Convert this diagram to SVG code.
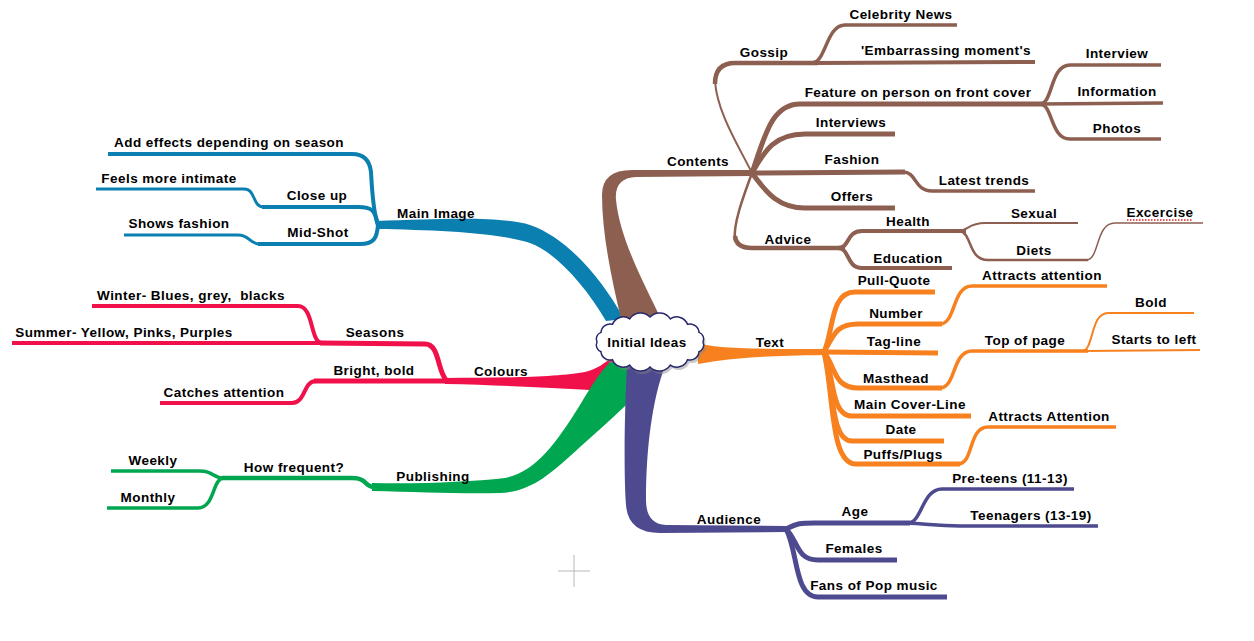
<svg xmlns="http://www.w3.org/2000/svg" width="1254" height="641" viewBox="0 0 1254 641">
<style>
.t{font-family:"Liberation Sans",Arial,sans-serif;font-weight:bold;font-size:13.5px;letter-spacing:0.45px;text-anchor:middle;fill:#000}
.l{fill:none;stroke-linecap:butt;stroke-linejoin:round}
.br{stroke:#8c5f50}.or{stroke:#f7811f}.pu{stroke:#4e4a8f}.bl{stroke:#0a7fb0}.rd{stroke:#f0104a}.gr{stroke:#00a650}
.w5{stroke-width:5}.w45{stroke-width:4.5}.w4{stroke-width:4}.w35{stroke-width:3.5}.w3{stroke-width:3}.w25{stroke-width:2.5}.w2{stroke-width:2}.w15{stroke-width:1.5}
</style>
<rect width="1254" height="641" fill="#fff"/>
<g id="connectors">
  <!-- trunks -->
  <path fill="#0a7fb0" d="M 376 221 C 440 219, 500 216, 530 225 C 565 237, 600 275, 624 319 L 606 321 C 585 285, 555 252, 530 243 C 500 233, 440 230, 376 229 Z"/>
  <path fill="#8c5f50" d="M 621 319 C 612 280, 602 235, 602 195 Q 602 170, 632 170 L 752 170 L 752 176 L 636 177 Q 614 178, 616 200 C 620 240, 645 285, 661 319 Z"/>
  <path fill="#f0104a" d="M 445 378 C 500 378, 560 377, 585 372 C 597 369, 605 363, 612 357 L 618 372 C 608 382, 600 390, 590 390 C 550 388, 500 385, 445 384 Z"/>
  <path fill="#00a650" d="M 372 483 C 420 484, 470 482, 505 478 C 535 472, 555 445, 580 405 C 592 385, 600 372, 610 362 L 662 364 C 640 395, 610 420, 580 447 C 550 475, 530 492, 500 493 C 460 494, 420 492, 372 491 Z"/>
  <path fill="#4e4a8f" d="M 627 366 C 624 420, 624 480, 626 505 Q 628 533, 660 533 L 787 532 L 787 526 L 666 525 Q 646 524, 646 500 C 646 450, 652 400, 665 366 Z"/>
  <path fill="#f7811f" d="M 698 343 C 715 348, 740 349, 824 349 L 824 355 C 760 356, 730 358, 698 364 Z"/>
  <!-- brown -->
  <path class="l br w2" d="M 752 173 C 738 145, 716 110, 715 80"/>
  <path class="l br w45" d="M 715 84 Q 715 63, 735 63 L 818 63"/>
  <path class="l br w4" d="M 815 63 L 1035 62"/>
  <path class="l br w35" d="M 812 63 C 826 63, 826 25, 845 25 L 957 25"/>
  <path class="l br w5" d="M 752 173 C 765 135, 772 104, 800 104 L 1045 104"/>
  <path class="l br w35" d="M 1040 104 C 1053 104, 1050 65, 1070 65 L 1161 65"/>
  <path class="l br w35" d="M 1040 104 L 1163 103"/>
  <path class="l br w35" d="M 1040 104 C 1053 104, 1050 139, 1070 139 L 1161 139"/>
  <path class="l br w5" d="M 752 173 C 765 150, 775 134, 805 134 L 895 134"/>
  <path class="l br w5" d="M 752 173 L 905 172"/>
  <path class="l br w35" d="M 903 172 C 917 172, 914 191, 932 191 L 1035 191"/>
  <path class="l br w5" d="M 752 173 C 768 195, 780 208, 805 208 L 895 208"/>
  <path class="l br w25" d="M 752 173 C 742 200, 733 225, 735 240"/>
  <path class="l br w45" d="M 735 236 Q 736 248, 752 248 L 845 248"/>
  <path class="l br w4" d="M 838 248 C 850 248, 846 231, 862 231 L 966 231"/>
  <path class="l br w4" d="M 838 248 C 850 248, 846 268, 862 268 L 952 268"/>
  <path class="l br w2" d="M 958 231 C 968 231, 968 223, 985 223 L 1078 223"/>
  <path class="l br w25" d="M 960 231 C 972 233, 968 260, 988 260 L 1088 260"/>
  <path class="l br w15" d="M 1086 260 C 1100 260, 1095 223, 1115 223 L 1203 223"/>
  <!-- orange -->
  <path class="l or w5" d="M 824 352 C 834 330, 830 292, 855 292 L 935 292"/>
  <path class="l or w5" d="M 824 352 C 834 335, 836 324, 858 324 L 942 324"/>
  <path class="l or w35" d="M 940 324 C 956 324, 952 286, 972 286 L 1107 286"/>
  <path class="l or w5" d="M 824 352 L 938 353"/>
  <path class="l or w5" d="M 824 352 C 836 368, 834 388, 858 388 L 942 388"/>
  <path class="l or w35" d="M 940 388 C 956 388, 952 351, 972 351 L 1088 351"/>
  <path class="l or w2" d="M 1082 351 C 1094 351, 1090 313, 1108 313 L 1194 313"/>
  <path class="l or w2" d="M 1082 351 L 1200 350"/>
  <path class="l or w5" d="M 824 352 C 834 372, 830 416, 852 416 L 971 416"/>
  <path class="l or w5" d="M 824 352 C 834 385, 830 441, 852 441 L 944 441"/>
  <path class="l or w5" d="M 824 352 C 834 395, 830 464, 856 464 L 960 464"/>
  <path class="l or w35" d="M 958 464 C 974 464, 968 427, 988 427 L 1116 427"/>
  <!-- purple -->
  <path class="l pu w5" d="M 786 529 C 798 523, 800 523, 815 523 L 910 523"/>
  <path class="l pu w35" d="M 908 523 C 922 523, 922 489, 942 489 L 1074 489"/>
  <path class="l pu w35" d="M 905 523 C 930 524, 935 526, 960 526 L 1098 526"/>
  <path class="l pu w5" d="M 786 529 C 798 540, 796 560, 818 560 L 897 560"/>
  <path class="l pu w5" d="M 786 529 C 798 550, 794 597, 818 597 L 947 597"/>
  <!-- blue -->
  <path class="l bl w4" d="M 378 225 C 373 212, 372 190, 371 172 Q 369 154, 352 154 L 108 154"/>
  <path class="l bl w4" d="M 378 225 C 375 210, 372 207, 358 207 L 262 207"/>
  <path class="l bl w3" d="M 264 207 C 252 207, 256 189, 244 189 L 96 189"/>
  <path class="l bl w4" d="M 378 225 C 377 238, 374 244, 360 244 L 258 244"/>
  <path class="l bl w3" d="M 260 244 C 249 244, 250 235, 238 235 L 124 235"/>
  <!-- red -->
  <path class="l rd w5" d="M 447 381 C 437 372, 440 344, 425 344 L 320 343"/>
  <path class="l rd w4" d="M 322 343 L 12 343"/>
  <path class="l rd w4" d="M 322 343 C 310 343, 314 306, 298 306 L 92 306"/>
  <path class="l rd w5" d="M 447 381 L 314 381"/>
  <path class="l rd w4" d="M 316 381 C 303 381, 306 403, 292 403 L 160 403"/>
  <!-- green -->
  <path class="l gr w45" d="M 374 487 C 364 487, 368 478, 352 478 L 222 478"/>
  <path class="l gr w35" d="M 224 478 C 212 478, 214 471, 200 471 L 111 471"/>
  <path class="l gr w35" d="M 224 478 C 212 478, 215 508, 198 508 L 107 508"/>
</g>
<g id="root">
  <path transform="translate(2,3)" fill="#888" opacity="0.45" d="M 703 342 A 7 7 0 0 1 699 351.6 A 9 9 0 0 1 687.5 359.7 A 11.5 11.5 0 0 1 670.3 365.1 A 13 13 0 0 1 650 367 A 13 13 0 0 1 629.7 365.1 A 11.5 11.5 0 0 1 612.5 359.7 A 9 9 0 0 1 601 351.6 A 7 7 0 0 1 597 342 A 7 7 0 0 1 601 332.4 A 9 9 0 0 1 612.5 324.3 A 11.5 11.5 0 0 1 629.7 318.9 A 13 13 0 0 1 650 317 A 13 13 0 0 1 670.3 318.9 A 11.5 11.5 0 0 1 687.5 324.3 A 9 9 0 0 1 699 332.4 A 7 7 0 0 1 703 342 Z"/>
  <path fill="#fff" stroke="#28286a" stroke-width="1.5" d="M 703 342 A 7 7 0 0 1 699 351.6 A 9 9 0 0 1 687.5 359.7 A 11.5 11.5 0 0 1 670.3 365.1 A 13 13 0 0 1 650 367 A 13 13 0 0 1 629.7 365.1 A 11.5 11.5 0 0 1 612.5 359.7 A 9 9 0 0 1 601 351.6 A 7 7 0 0 1 597 342 A 7 7 0 0 1 601 332.4 A 9 9 0 0 1 612.5 324.3 A 11.5 11.5 0 0 1 629.7 318.9 A 13 13 0 0 1 650 317 A 13 13 0 0 1 670.3 318.9 A 11.5 11.5 0 0 1 687.5 324.3 A 9 9 0 0 1 699 332.4 A 7 7 0 0 1 703 342 Z"/>
  <text class="t" x="647" y="347">Initial Ideas</text>
</g>
<g id="n-contents"><text class="t" x="698" y="166">Contents</text></g>
<g id="n-gossip"><text class="t" x="764" y="57">Gossip</text></g>
<g id="n-celebrity"><text class="t" x="901" y="19">Celebrity News</text></g>
<g id="n-embarrassing"><text class="t" x="946" y="55">'Embarrassing moment's</text></g>
<g id="n-feature"><text class="t" x="918" y="97">Feature on person on front cover</text></g>
<g id="n-interview"><text class="t" x="1117" y="58">Interview</text></g>
<g id="n-information"><text class="t" x="1117" y="96">Information</text></g>
<g id="n-photos"><text class="t" x="1117" y="133">Photos</text></g>
<g id="n-interviews"><text class="t" x="851" y="127">Interviews</text></g>
<g id="n-fashion"><text class="t" x="852" y="164">Fashion</text></g>
<g id="n-latest"><text class="t" x="984" y="185">Latest trends</text></g>
<g id="n-offers"><text class="t" x="852" y="201">Offers</text></g>
<g id="n-advice"><text class="t" x="788" y="244">Advice</text></g>
<g id="n-health"><text class="t" x="908" y="226">Health</text></g>
<g id="n-education"><text class="t" x="908" y="263">Education</text></g>
<g id="n-sexual"><text class="t" x="1034" y="218">Sexual</text></g>
<g id="n-diets"><text class="t" x="1034" y="255">Diets</text></g>
<g id="n-excercise"><text class="t" x="1160" y="217">Excercise</text><line x1="1127" y1="220" x2="1193" y2="220" stroke="#e02020" stroke-width="1.5" stroke-dasharray="1.5 1.5"/></g>
<g id="n-text"><text class="t" x="770" y="347">Text</text></g>
<g id="n-pullquote"><text class="t" x="894" y="285">Pull-Quote</text></g>
<g id="n-number"><text class="t" x="896" y="318">Number</text></g>
<g id="n-attracts1"><text class="t" x="1042" y="280">Attracts attention</text></g>
<g id="n-tagline"><text class="t" x="894" y="346">Tag-line</text></g>
<g id="n-masthead"><text class="t" x="896" y="383">Masthead</text></g>
<g id="n-topofpage"><text class="t" x="1025" y="345">Top of page</text></g>
<g id="n-bold"><text class="t" x="1151" y="307">Bold</text></g>
<g id="n-startsleft"><text class="t" x="1154" y="344">Starts to left</text></g>
<g id="n-maincover"><text class="t" x="910" y="409">Main Cover-Line</text></g>
<g id="n-date"><text class="t" x="901" y="434">Date</text></g>
<g id="n-puffs"><text class="t" x="903" y="459">Puffs/Plugs</text></g>
<g id="n-attracts2"><text class="t" x="1049" y="421">Attracts Attention</text></g>
<g id="n-audience"><text class="t" x="729" y="524">Audience</text></g>
<g id="n-age"><text class="t" x="855" y="516">Age</text></g>
<g id="n-preteens"><text class="t" x="1010" y="483">Pre-teens (11-13)</text></g>
<g id="n-teenagers"><text class="t" x="1031" y="520">Teenagers (13-19)</text></g>
<g id="n-females"><text class="t" x="854" y="553">Females</text></g>
<g id="n-fans"><text class="t" x="874" y="590">Fans of Pop music</text></g>
<g id="n-mainimage"><text class="t" x="436" y="218">Main Image</text></g>
<g id="n-addeffects"><text class="t" x="229" y="147">Add effects depending on season</text></g>
<g id="n-closeup"><text class="t" x="317" y="200">Close up</text></g>
<g id="n-feels"><text class="t" x="169" y="183">Feels more intimate</text></g>
<g id="n-midshot"><text class="t" x="318" y="237">Mid-Shot</text></g>
<g id="n-showsfashion"><text class="t" x="179" y="228">Shows fashion</text></g>
<g id="n-colours"><text class="t" x="501" y="376">Colours</text></g>
<g id="n-seasons"><text class="t" x="375" y="337">Seasons</text></g>
<g id="n-winter"><text class="t" x="191" y="300">Winter- Blues, grey,&#160; blacks</text></g>
<g id="n-summer"><text class="t" x="124" y="337">Summer- Yellow, Pinks, Purples</text></g>
<g id="n-bright"><text class="t" x="374" y="375">Bright, bold</text></g>
<g id="n-catches"><text class="t" x="224" y="397">Catches attention</text></g>
<g id="n-publishing"><text class="t" x="433" y="481">Publishing</text></g>
<g id="n-howfrequent"><text class="t" x="294" y="472">How frequent?</text></g>
<g id="n-weekly"><text class="t" x="153" y="465">Weekly</text></g>
<g id="n-monthly"><text class="t" x="148" y="502">Monthly</text></g>
<path d="M 558 571 H 590 M 574 555 V 587" stroke="#b8b8b8" stroke-width="1" fill="none"/>
</svg>
